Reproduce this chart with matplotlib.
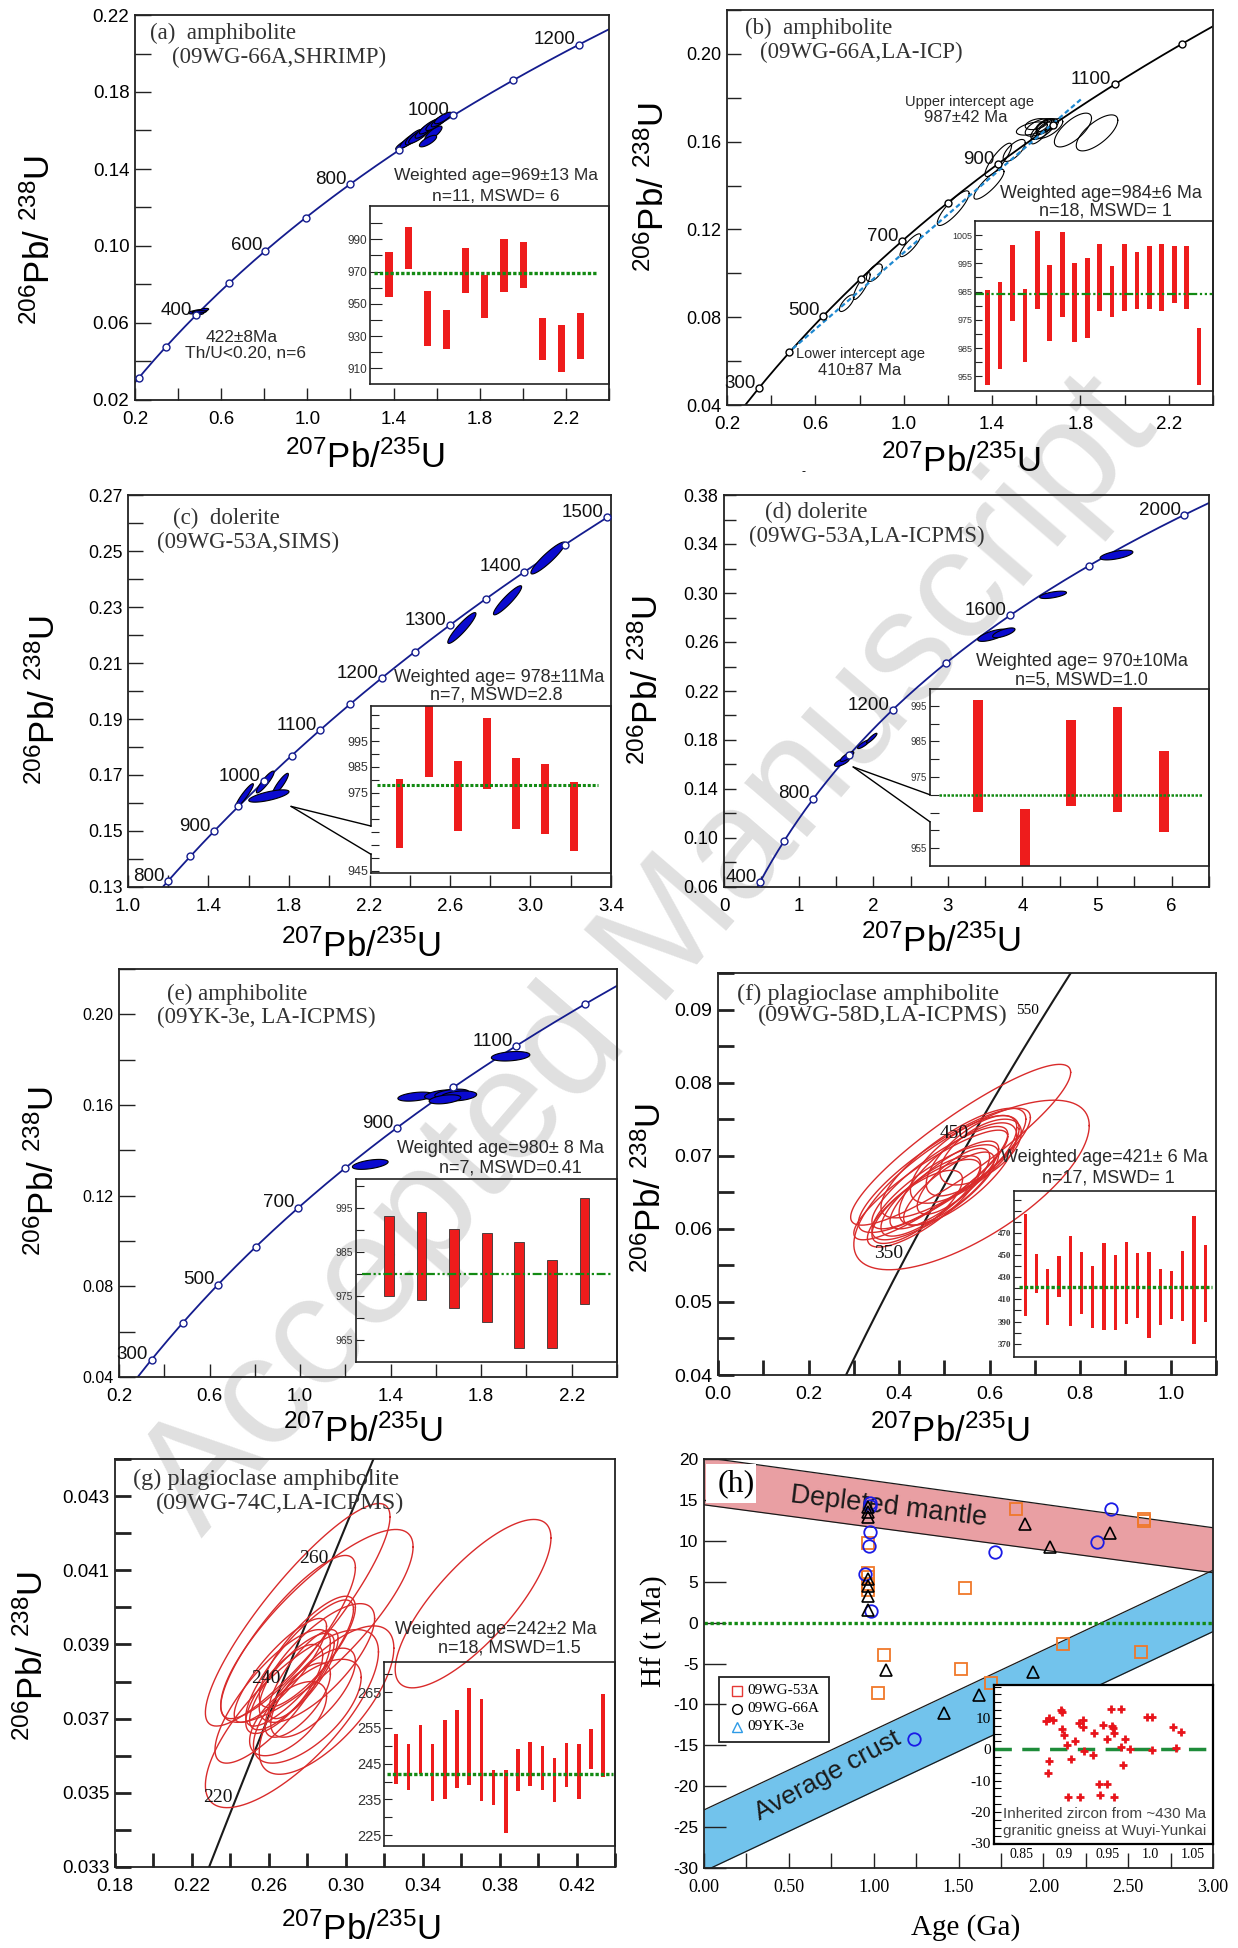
import numpy as np
import matplotlib
matplotlib.use("Agg")
import matplotlib.pyplot as plt
from matplotlib.patches import ConnectionPatch, Rectangle

plt.rcParams['font.family'] = ['Liberation Sans', 'DejaVu Sans']
plt.rcParams['mathtext.fontset'] = 'custom'
plt.rcParams['mathtext.rm'] = 'Liberation Sans'
plt.rcParams['mathtext.it'] = 'Liberation Sans:italic'
plt.rcParams['mathtext.bf'] = 'Liberation Sans:bold'
SERIF = ['Liberation Serif', 'DejaVu Serif']

# decay constants (1/Ma)
L238 = 1.55125e-4
L235 = 9.8485e-4

# ---------------- (a) 09WG-66A, SHRIMP
a_marks = [200, 300, 400, 500, 600, 700, 800, 900, 1000, 1100, 1200]
a_named = [400, 600, 800, 1000, 1200]
# x, sx, y, sy, rho
a_ell = [(1.450, 0.040, 0.1530, 0.0030, 0.85), (1.475, 0.045, 0.1550, 0.0040, 0.85),
         (1.495, 0.040, 0.1565, 0.0040, 0.80), (1.520, 0.050, 0.1575, 0.0042, 0.85),
         (1.545, 0.045, 0.1600, 0.0040, 0.85), (1.565, 0.045, 0.1620, 0.0038, 0.85),
         (1.585, 0.040, 0.1585, 0.0038, 0.80), (1.600, 0.050, 0.1640, 0.0040, 0.85),
         (1.620, 0.045, 0.1655, 0.0036, 0.85), (1.630, 0.040, 0.1665, 0.0030, 0.80),
         (1.560, 0.040, 0.1545, 0.0030, 0.75),
         (0.470, 0.022, 0.0655, 0.0008, 0.3), (0.490, 0.025, 0.0660, 0.0009, 0.4),
         (0.500, 0.020, 0.0650, 0.0007, 0.3), (0.510, 0.025, 0.0662, 0.0008, 0.4),
         (0.520, 0.022, 0.0668, 0.0008, 0.5), (0.500, 0.030, 0.0658, 0.0006, 0.2)]
a_hi = [982, 997.8, 958, 946.3, 984.6, 968, 990.2, 988.4, 941.1, 936.6, 944.6]
a_lo = [954, 971.6, 923.6, 922.2, 956.4, 941.5, 957.4, 959.7, 915, 907.7, 915.8]
a_age = 969

# ---------------- (b) 09WG-66A, LA-ICP
b_marks = [300, 400, 500, 600, 700, 800, 900, 1000, 1100, 1200]
b_named = [300, 500, 700, 900, 1100]
b_ell = [(0.742, 0.033, 0.0864, 0.0038, 0.75), (0.810, 0.038, 0.0942, 0.0061, 0.85),
         (0.867, 0.036, 0.1003, 0.0040, 0.60), (1.030, 0.047, 0.1128, 0.0052, 0.85),
         (1.224, 0.072, 0.1297, 0.0079, 0.85), (1.386, 0.068, 0.1406, 0.0068, 0.85),
         (1.428, 0.060, 0.1517, 0.0076, 0.85), (1.500, 0.050, 0.1560, 0.0050, 0.70),
         (1.580, 0.070, 0.1660, 0.0030, 0.50), (1.610, 0.060, 0.1665, 0.0040, 0.60),
         (1.630, 0.055, 0.1655, 0.0045, 0.70), (1.650, 0.050, 0.1675, 0.0030, 0.50),
         (1.620, 0.045, 0.1640, 0.0050, 0.80), (1.660, 0.060, 0.1660, 0.0045, 0.70),
         (1.600, 0.050, 0.1680, 0.0025, 0.40), (1.640, 0.040, 0.1670, 0.0035, 0.60),
         (1.766, 0.084, 0.1653, 0.0077, 0.70), (1.875, 0.094, 0.1640, 0.0082, 0.70)]
b_lower, b_upper, b_line_end = 410, 987, 1.81
b_hi = [985.5, 988.5, 1001.5, 986, 1006.5, 994.5, 1006, 995, 997, 1002, 994, 1002, 999, 1001, 1002, 1001, 1001, 972]
b_lo = [952, 957.5, 974.5, 960, 979, 967.5, 976, 967, 968.5, 978, 976, 978, 979, 979, 978, 981, 979, 952]
b_age = 984

# ---------------- (c) 09WG-53A, SIMS
c_marks = list(range(800, 1501, 50))
c_named = [800, 900, 1000, 1100, 1200, 1300, 1400, 1500]
c_ell = [(1.579, 0.044, 0.1627, 0.0042, 0.93), (1.682, 0.044, 0.1675, 0.0039, 0.90),
         (1.757, 0.040, 0.1667, 0.0039, 0.90), (1.700, 0.100, 0.1625, 0.0022, 0.70),
         (2.659, 0.070, 0.2225, 0.0055, 0.92), (2.886, 0.070, 0.2324, 0.0052, 0.92),
         (3.087, 0.085, 0.2475, 0.0057, 0.92)]
c_hi = [980.4, 1012, 987.1, 1003.8, 988.6, 986.2, 979.3]
c_lo = [953.9, 981, 960.3, 976.6, 961.2, 959.2, 952.6]
c_age = 978

# ---------------- (d) 09WG-53A, LA-ICPMS
d_marks = list(range(400, 2001, 200))
d_named = [400, 800, 1200, 1600, 2000]
d_ell = [(1.58, 0.10, 0.1620, 0.0035, 0.70), (1.65, 0.09, 0.1665, 0.0040, 0.80),
         (1.87, 0.08, 0.1765, 0.0035, 0.85), (1.98, 0.07, 0.1815, 0.0040, 0.90),
         (3.60, 0.20, 0.2655, 0.0050, 0.70), (3.75, 0.15, 0.2675, 0.0040, 0.70),
         (4.41, 0.18, 0.2985, 0.0030, 0.60), (5.26, 0.22, 0.3310, 0.0040, 0.60)]
d_hi = [996.7, 965.9, 991.1, 994.7, 982.2]
d_lo = [965.2, 948, 966.8, 965.2, 959.6]
d_age = 970

# ---------------- (e) 09YK-3e, LA-ICPMS
e_marks = [300, 400, 500, 600, 700, 800, 900, 1000, 1100, 1200]
e_named = [300, 500, 700, 900, 1100]
e_ell = [(1.310, 0.079, 0.1338, 0.0022, 0.5), (1.510, 0.078, 0.1637, 0.0020, 0.4),
         (1.630, 0.080, 0.1645, 0.0022, 0.4), (1.670, 0.075, 0.1650, 0.0020, 0.4),
         (1.700, 0.080, 0.1640, 0.0022, 0.3), (1.640, 0.070, 0.1625, 0.0020, 0.4),
         (1.930, 0.085, 0.1815, 0.0021, 0.3)]
e_hi = [993.1, 994, 990.2, 989.2, 987.1, 983.1, 997.1]
e_lo = [975, 973.9, 972.1, 969, 963.1, 963.1, 973.1]
e_age = 980

# ---------------- (f) 09WG-58D, LA-ICPMS
f_named = [350, 450, 550]
f_ell = [(0.536, 0.243, 0.0715, 0.0110, 0.90), (0.560, 0.260, 0.0660, 0.0116, 0.70),
         (0.500, 0.190, 0.0680, 0.0085, 0.85), (0.520, 0.160, 0.0690, 0.0075, 0.80),
         (0.480, 0.140, 0.0650, 0.0065, 0.80), (0.500, 0.120, 0.0660, 0.0060, 0.82),
         (0.470, 0.110, 0.0645, 0.0055, 0.78), (0.530, 0.130, 0.0675, 0.0070, 0.75),
         (0.545, 0.120, 0.0695, 0.0060, 0.70), (0.490, 0.150, 0.0670, 0.0070, 0.85),
         (0.455, 0.125, 0.0635, 0.0060, 0.80), (0.510, 0.100, 0.0655, 0.0050, 0.80),
         (0.560, 0.100, 0.0700, 0.0055, 0.70), (0.440, 0.100, 0.0630, 0.0050, 0.75),
         (0.580, 0.090, 0.0705, 0.0045, 0.60), (0.470, 0.170, 0.0660, 0.0075, 0.88),
         (0.520, 0.080, 0.0665, 0.0045, 0.75)]
f_hi = [487.4, 450.5, 437.1, 449, 467, 452.9, 440, 460.4, 450, 461.9, 451.4, 452.3, 437.1, 435.6, 453.5, 485, 458.9]
f_lo = [394.6, 415.5, 387.1, 411.9, 385.6, 397, 384.1, 382, 382, 387.7, 393, 375.1, 386.5, 392.5, 390.7, 370, 389.5]
f_age = 421

# ---------------- (g) 09WG-74C, LA-ICPMS
g_named = [220, 240, 260]
g_ell = [(0.3662, 0.0405, 0.0401, 0.00227, 0.78), (0.275, 0.048, 0.0398, 0.0030, 0.88),
         (0.285, 0.050, 0.0395, 0.0026, 0.82), (0.272, 0.045, 0.0370, 0.0024, 0.75),
         (0.270, 0.035, 0.0392, 0.0022, 0.85), (0.276, 0.028, 0.0385, 0.0017, 0.85),
         (0.280, 0.025, 0.0388, 0.0015, 0.80), (0.272, 0.022, 0.0380, 0.0013, 0.80),
         (0.268, 0.020, 0.0378, 0.0012, 0.75), (0.278, 0.018, 0.0382, 0.0012, 0.80),
         (0.283, 0.022, 0.0377, 0.0012, 0.70), (0.275, 0.017, 0.0375, 0.0010, 0.70),
         (0.266, 0.024, 0.0383, 0.0014, 0.85), (0.285, 0.030, 0.0385, 0.0016, 0.75),
         (0.290, 0.035, 0.0375, 0.0020, 0.70), (0.270, 0.020, 0.0370, 0.0010, 0.60),
         (0.280, 0.028, 0.0372, 0.0014, 0.65), (0.262, 0.030, 0.0376, 0.0018, 0.80)]
g_hi = [253.4, 250.4, 255.7, 250.4, 257.3, 259.9, 266.2, 263.1, 243.3, 243.3, 249.2, 251, 249.8, 246.7, 250.7, 250.4, 254.8, 264.5]
g_lo = [239.2, 237.7, 242.2, 234.6, 235.2, 238.3, 239.1, 234.6, 233.4, 225.5, 237.4, 238.8, 237.6, 234.3, 238.5, 235.2, 243.6, 241.3]
g_age = 242

# ---------------- (h) Hf isotopes
dm_x = [0, 3]
dm_upper = [20.2, 11.6]
dm_lower = [14.4, 6.1]
ac_upper = [-22.9, 6.4]
ac_lower = [-30.4, -1.1]
sq_x = [0.968, 0.968, 0.968, 0.968, 0.968, 1.536, 1.838, 2.591, 2.591, 1.061, 1.026, 1.515, 1.689, 2.114, 2.575]
sq_y = [9.77, 6.03, 5.54, 4.68, 3.99, 4.19, 13.85, 12.67, 12.46, -3.96, -8.65, -5.63, -7.34, -2.62, -3.6]
ci_x = [0.978, 0.978, 0.978, 0.974, 0.949, 0.982, 1.713, 2.319, 2.40, 1.236]
ci_y = [14.58, 14.2, 11.1, 9.36, 5.9, 1.37, 8.67, 9.89, 13.89, -14.2]
tr_x = [0.968, 0.968, 0.968, 0.968, 0.968, 0.968, 0.968, 1.892, 2.037, 2.393, 1.07, 1.939, 1.62, 1.415]
tr_y = [14.17, 13.56, 12.87, 5.33, 4.43, 3.29, 1.58, 12.0, 9.28, 10.9, -5.8, -6.08, -8.85, -11.1]
inh_x = [0.879, 0.8826, 0.8868, 0.8965, 0.898, 0.898, 0.900, 0.9038, 0.9128, 0.9178, 0.9217, 0.9217,
         0.9229, 0.9078, 0.8822, 0.881, 0.9043, 0.9186, 0.9334, 0.9349, 0.9411, 0.9496, 0.9419, 0.945,
         0.95, 0.9555, 0.9566, 0.9581, 0.9547, 0.9578, 0.9663, 0.9663, 0.969, 0.971, 0.9766, 0.996,
         1.0019, 1.0019, 1.0263, 1.0303, 1.0355]
inh_y = [9.0, 9.84, 9.2, 12.5, 11.96, 6.35, 4.44, 1.27, 2.65, 8.25, 9.2, 7.09, -0.53, -3.17, -3.7,
         -7.6, -15.1, -15.1, -1.9, 5.29, -11.1, -11.1, -14.6, 7.72, 3.39, 7.4, 6.67, 5.29, 12.7,
         -15.1, 12.7, 0.74, -5.08, 3.39, 0.1, 10.2, 10.3, -0.2, 7.2, 0.3, 5.6]

W, H = 1238, 1948
fig = plt.figure(figsize=(W / 100, H / 100), dpi=100)
fig.patch.set_facecolor('white')

NAVY = '#141C8E'
BLUE = '#0A0ACF'
RED = '#EE1C1C'
GREEN = '#138A13'
DARK = '#222222'


def box(l, t, r, b):
    return fig.add_axes([l / W, 1 - b / H, (r - l) / W, (b - t) / H])


def concordia(t):
    t = np.asarray(t, float)
    return np.exp(L235 * t) - 1, np.exp(L238 * t) - 1


def ell(x, sx, y, sy, rho, n=120):
    th = np.linspace(0, 2 * np.pi, n)
    return x + sx * np.cos(th), y + sy * (rho * np.cos(th) + np.sqrt(1 - rho ** 2) * np.sin(th))


def tickset(lo, hi, step, every, fmt):
    n = int(round((hi - lo) / step)) + 1
    vals = [lo + i * step for i in range(n)]
    return vals, [fmt.format(v) if i % every == 0 else '' for i, v in enumerate(vals)]


def frame(ax, xlim, ylim, xt, yt, xlen, ylen, xfs=13.5, yfs=13, tw=1.0, xfam=None):
    ax.set_xlim(*xlim)
    ax.set_ylim(*ylim)
    ax.set_xticks(xt[0])
    ax.set_xticklabels(xt[1], fontsize=xfs, fontfamily=xfam)
    ax.set_yticks(yt[0])
    ax.set_yticklabels(yt[1], fontsize=yfs)
    ax.tick_params(axis='x', direction='in', length=xlen * 0.72, width=tw, pad=8, color=DARK)
    ax.tick_params(axis='y', direction='in', length=ylen * 0.72, width=tw, pad=4, color=DARK)
    for s in ax.spines.values():
        s.set_linewidth(1.3)
        s.set_color(DARK)
    ax.patch.set_visible(False)


def make_inset(pos, xlim, ylim, yt, tl, fs, fam=None, weight='normal'):
    ins = box(*pos)
    ins.set_xlim(*xlim)
    ins.set_ylim(*ylim)
    ins.set_xticks([])
    ins.set_yticks(yt[0])
    ins.set_yticklabels(yt[1], fontsize=fs, fontfamily=fam, fontweight=weight, color='#333333')
    ins.tick_params(axis='y', direction='in', length=tl * 0.72, width=0.8, pad=2, color=DARK)
    for s in ins.spines.values():
        s.set_linewidth(1.2)
        s.set_color(DARK)
    ins.patch.set_visible(False)
    return ins


def bars(ins, lo, hi, width, mean, ls, lw, xr, ec='none'):
    idx = np.arange(len(lo))
    ins.bar(idx, np.array(hi) - np.array(lo), bottom=lo, width=width, color=RED,
            edgecolor=ec, linewidth=0.6)
    ins.axhline(mean, xmin=xr[0], xmax=xr[1], color=GREEN, ls=ls, lw=lw)


def curve(ax, color, marks=None, named=(), fs=13.5, fam=None, off=(-2.5, 3.5), lw=1.3):
    cx, cy = concordia(np.linspace(0, 4600, 4000))
    ax.plot(cx, cy, color=color, lw=lw, zorder=2)
    if marks is not None:
        mx, my = concordia(marks)
        ax.plot(mx, my, 'o', ms=5, mfc='white', mec=color, mew=1.0, zorder=4)
    for t in named:
        ax.annotate(str(t), concordia(t), xytext=off, textcoords='offset points',
                    ha='right', va='center', fontsize=fs, fontfamily=fam, color='#111111', zorder=5)


def ellipses(ax, rows, filled=True, color=BLUE, ec='black', lw=0.8):
    for x, sx, y, sy, rho in rows:
        ex, ey = ell(x, sx, y, sy, rho)
        if filled:
            ax.fill(ex, ey, fc=color, ec=ec, lw=lw, zorder=3)
        else:
            ax.plot(ex, ey, color=color, lw=lw, zorder=3)


def title(ax, x, y1, y2, t1, t2, x2=None, fs=16.5):
    ax.text(x, y1, t1, fontsize=fs, fontfamily=SERIF, color='#333333', ha='left', va='center')
    ax.text(x if x2 is None else x2, y2, t2, fontsize=fs, fontfamily=SERIF, color='#333333',
            ha='left', va='center')


def note(ax, x, y, s, fs=12.5):
    ax.text(x, y, s, fontsize=fs, ha='center', va='center', color='#2a2a2a', zorder=6)


YLAB = r'$^{206}$Pb/ $^{238}$U'
XLAB = r'$^{207}$Pb/$^{235}$U'


def axis_labels(xpos, ypos, xl=XLAB, yl=YLAB, fs=25, fam=None):
    fig.text(ypos[0] / W, 1 - ypos[1] / H, yl, rotation=90, ha='center', va='center',
             fontsize=fs, fontfamily=fam)
    fig.text(xpos[0] / W, 1 - xpos[1] / H, xl, ha='center', va='center', fontsize=fs, fontfamily=fam)


# watermark behind everything
fig.text(650 / W, 1 - 957 / H, 'Accepted Manuscript', rotation=49.2, rotation_mode='anchor',
         ha='center', va='center', fontsize=113, color='#E0E0E0', zorder=-10)

# ================= (a)
ax = box(135, 15, 609, 400)
frame(ax, (0.2, 2.4), (0.02, 0.22), tickset(0.2, 2.4, 0.2, 2, '{:.1f}'),
      tickset(0.02, 0.22, 0.02, 2, '{:.2f}'), 12, 16, yfs=13.5)
curve(ax, NAVY, a_marks, a_named)
ellipses(ax, a_ell)
title(ax, 0.27, 0.2105, 0.198, '(a)  amphibolite', '(09WG-66A,SHRIMP)', x2=0.371)
note(ax, 1.875, 0.1364, 'Weighted age=969\u00b113 Ma')
note(ax, 1.875, 0.1256, 'n=11, MSWD= 6')
note(ax, 0.695, 0.0526, '422\u00b18Ma')
note(ax, 0.714, 0.0439, 'Th/U<0.20, n=6')
ins = make_inset((370, 206, 609, 384), (-0.99, 11.48), (900.3, 1010.6),
                 tickset(910, 1000, 10, 2, '{:.0f}'), 12, 8.5)
bars(ins, a_lo, a_hi, 0.37, a_age, (0, (1, 0.6)), 2.4, (0.017, 0.95))
axis_labels((365, 458), (40, 240))

# ================= (b)
ax = box(727, 10, 1213, 405)
frame(ax, (0.2, 2.4), (0.04, 0.22), tickset(0.2, 2.4, 0.2, 2, '{:.1f}'),
      tickset(0.04, 0.22, 0.02, 2, '{:.2f}'), 10, 14)
curve(ax, 'black', b_marks, b_named)
ellipses(ax, b_ell, filled=False, color='black', lw=0.8)
lx, ly = concordia(b_lower)
ux, uy = concordia(b_upper)
slope = (uy - ly) / (ux - lx)
ax.plot([lx, b_line_end], [ly, ly + slope * (b_line_end - lx)], color='#1E88D0', lw=1.6,
        ls=(0, (2.2, 1.4)), zorder=3)
title(ax, 0.281, 0.2114, 0.2007, '(b)  amphibolite', '(09WG-66A,LA-ICP)', x2=0.3475)
note(ax, 1.297, 0.178, 'Upper intercept age', fs=10.5)
note(ax, 1.279, 0.1709, '987\u00b142 Ma', fs=12)
note(ax, 0.8025, 0.0632, 'Lower intercept age', fs=10.5)
note(ax, 0.8025, 0.0556, '410\u00b187 Ma', fs=12)
note(ax, 1.894, 0.1363, 'Weighted age=984\u00b16 Ma', fs=13)
note(ax, 1.912, 0.1283, 'n=18, MSWD= 1', fs=13)
b_ticks = tickset(955, 1005, 5, 2, '{:.0f}')
b_ticks[1][2] = '985'
ins = make_inset((975, 221, 1213, 391), (-1.02, 18.12), (949.8, 1010), b_ticks, 7, 6.5)
bars(ins, b_lo, b_hi, 0.38, b_age, (0, (4, 1.2, 1, 1.2, 1, 1.2)), 1.6, (0.0, 1.0))
axis_labels((961, 462), (654, 187))
fig.text(804 / W, 1 - 472 / H, '-', ha='center', va='center', fontsize=9)

# ================= (c)
ax = box(128, 495, 611, 887)
frame(ax, (1.0, 3.4), (0.13, 0.27), tickset(1.0, 3.4, 0.2, 2, '{:.1f}'),
      tickset(0.13, 0.27, 0.01, 2, '{:.2f}'), 12, 15, yfs=12.7)
curve(ax, NAVY, c_marks, c_named)
ellipses(ax, c_ell)
title(ax, 1.225, 0.2616, 0.2532, '(c)  dolerite', '(09WG-53A,SIMS)', x2=1.146)
note(ax, 2.844, 0.205, 'Weighted age= 978\u00b111Ma', fs=13)
note(ax, 2.83, 0.1987, 'n=7, MSWD=2.8', fs=13)
c_vals = list(range(945, 1006, 5))
c_labs = [str(v) if v in (945, 975, 985, 995) else '' for v in c_vals]
ins = make_inset((371, 706, 611, 873), (-0.98, 7.26), (944.1, 1008.5), (c_vals, c_labs), 8, 9)
bars(ins, c_lo, c_hi, 0.27, c_age, (0, (1, 0.6)), 2.2, (0.023, 0.946))
ins.spines['left'].set_visible(False)
for seg in [(944.1, 951.3), (962.2, 1008.5)]:
    ins.plot([0, 0], seg, transform=ins.get_yaxis_transform(), color=DARK, lw=1.2, clip_on=False)
for yv in (962.2, 951.3):
    fig.add_artist(ConnectionPatch(xyA=(1.81, 0.1588), coordsA=ax.transData, xyB=(0, yv),
                                   coordsB=ins.get_yaxis_transform(), color='black', lw=1.0))
axis_labels((361, 947), (45, 700))

# ================= (d)
ax = box(724, 495, 1209, 887)
frame(ax, (0, 6.5), (0.06, 0.38), tickset(0, 6.5, 0.5, 2, '{:.0f}'),
      tickset(0.06, 0.38, 0.02, 2, '{:.2f}'), 11, 12, yfs=12.9)
curve(ax, NAVY, d_marks, d_named)
ellipses(ax, d_ell)
title(ax, 0.544, 0.366, 0.3463, '(d) dolerite', '(09WG-53A,LA-ICPMS)', x2=0.332)
note(ax, 4.80, 0.2437, 'Weighted age= 970\u00b110Ma', fs=13)
note(ax, 4.79, 0.2293, 'n=5, MSWD=1.0', fs=13)
d_vals = list(range(955, 1000, 5))
d_labs = [str(v) if v in (955, 975, 985, 995) else '' for v in d_vals]
ins = make_inset((930, 689, 1209, 866), (-1.04, 4.97), (950, 999.7), (d_vals, d_labs), 9, 7)
bars(ins, d_lo, d_hi, 0.21, d_age, (0, (1, 0.6)), 1.8, (0.033, 0.98))
ins.spines['left'].set_visible(False)
for seg in [(950, 962.4), (970.0, 999.7)]:
    ins.plot([0, 0], seg, transform=ins.get_yaxis_transform(), color=DARK, lw=1.2, clip_on=False)
for yv in (970.0, 962.4):
    fig.add_artist(ConnectionPatch(xyA=(1.731, 0.158), coordsA=ax.transData, xyB=(0, yv),
                                   coordsB=ins.get_yaxis_transform(), color='black', lw=1.0))
axis_labels((941, 942), (648, 680))

# ================= (e)
ax = box(119, 969, 617, 1377)
frame(ax, (0.2, 2.4), (0.04, 0.22), tickset(0.2, 2.4, 0.2, 2, '{:.1f}'),
      tickset(0.04, 0.22, 0.02, 2, '{:.2f}'), 13, 16, yfs=11.5)
curve(ax, NAVY, e_marks, e_named)
ellipses(ax, e_ell)
title(ax, 0.41, 0.2087, 0.1988, '(e) amphibolite', '(09YK-3e, LA-ICPMS)', x2=0.37)
note(ax, 1.887, 0.1407, 'Weighted age=980\u00b1 8 Ma', fs=13)
note(ax, 1.931, 0.1324, 'n=7, MSWD=0.41', fs=13)
ins = make_inset((356, 1179, 617, 1362), (-1.01, 7.0), (959.9, 1001.5),
                 tickset(965, 1000, 5, 2, '{:.0f}'), 8, 7.5)
bars(ins, e_lo, e_hi, 0.30, e_age, (0, (4, 1.2, 1, 1.2, 1, 1.2)), 1.6, (0.023, 0.98), ec='#333333')
axis_labels((363, 1432), (44, 1171))

# ================= (f)
ax = box(718, 973, 1216, 1375)
frame(ax, (0, 1.1), (0.04, 0.095), tickset(0, 1.1, 0.1, 2, '{:.1f}'),
      tickset(0.04, 0.095, 0.005, 2, '{:.2f}'), 15, 16, xfs=14, yfs=14, tw=2.0)
curve(ax, '#1a1a1a', None, [350, 450], fs=14, fam=SERIF, off=(-1, 4), lw=1.5)
ax.annotate('550', concordia(550), xytext=(-3, 4), textcoords='offset points', ha='right',
            va='center', fontsize=11, fontfamily=SERIF)
ellipses(ax, f_ell, filled=False, color='#D92B2B', lw=1.0)
title(ax, 0.041, 0.0921, 0.0892, '(f) plagioclase amphibolite', '(09WG-58D,LA-ICPMS)', x2=0.089, fs=17.5)
note(ax, 0.853, 0.0697, 'Weighted age=421\u00b1 6 Ma', fs=13)
note(ax, 0.862, 0.0670, 'n=17, MSWD= 1', fs=13)
f_vals = list(range(370, 501, 10))
f_labs = [str(v) if v <= 470 and (v - 370) % 20 == 0 else '' for v in f_vals]
ins = make_inset((1014, 1191, 1216, 1357), (-0.99, 16.95), (358, 507.7), (f_vals, f_labs), 7, 6.5,
                 fam=SERIF, weight='bold')
bars(ins, f_lo, f_hi, 0.28, f_age, (0, (1, 0.6)), 2.4, (0.026, 0.98))
axis_labels((950, 1432), (651, 1188))

# ================= (g)
ax = box(115, 1459, 615, 1867)
frame(ax, (0.18, 0.44), (0.033, 0.044), tickset(0.18, 0.44, 0.02, 2, '{:.2f}'),
      tickset(0.033, 0.044, 0.001, 2, '{:.3f}'), 14, 16, xfs=13.7, yfs=13.6, tw=2.0)
curve(ax, '#1a1a1a', None, g_named, fs=14, fam=SERIF, off=(-1, 4), lw=1.5)
ellipses(ax, g_ell, filled=False, color='#D92B2B', lw=1.0)
title(ax, 0.1896, 0.04345, 0.0428, '(g) plagioclase amphibolite', '(09WG-74C,LA-ICPMS)', x2=0.2011, fs=17.5)
note(ax, 0.378, 0.0394, 'Weighted age=242\u00b12 Ma', fs=13)
note(ax, 0.385, 0.0389, 'n=18, MSWD=1.5', fs=13)
ins = make_inset((384, 1662, 615, 1846), (-1.0, 17.97), (222, 273.4),
                 tickset(225, 270, 5, 2, '{:.0f}'), 8, 10.5)
bars(ins, g_lo, g_hi, 0.29, g_age, (0, (1, 0.6)), 2.4, (0.014, 0.99))
axis_labels((361, 1930), (33, 1656))

# ================= (h)
ax = box(704, 1459, 1213, 1868)
frame(ax, (0, 3), (-30, 20), tickset(0, 3, 0.25, 2, '{:.2f}'),
      tickset(-30, 20, 5, 1, '{:.0f}'), 15, 22, xfs=13, yfs=12.5, xfam=SERIF)
ax.fill_between(dm_x, dm_lower, dm_upper, color='#E99FA3', lw=0, zorder=1)
ax.fill_between(dm_x, ac_lower, ac_upper, color='#72C3EC', lw=0, zorder=1)
for yy in (dm_upper, dm_lower, ac_upper, ac_lower):
    ax.plot(dm_x, yy, color='#1a1a1a', lw=0.9, zorder=2)
ax.axhline(0, color=GREEN, ls=(0, (1, 0.8)), lw=2.4, zorder=2)
ax.add_patch(Rectangle((0.012, 14.6), 0.296, 4.8, fc='white', ec='none', zorder=3))
ax.text(0.191, 17.0, '(h)', fontsize=23, fontfamily=SERIF, ha='center', va='center', zorder=4)
ax.text(1.089, 14.16, 'Depleted mantle', fontsize=19.5, rotation=-6.8, ha='center', va='center',
        color='#1a1a1a', zorder=3)
ax.text(0.727, -18.7, 'Average crust', fontsize=19, rotation=28.5, ha='center', va='center',
        color='#1a1a1a', zorder=3)
ax.plot(sq_x, sq_y, 's', ms=8, mfc='none', mec='#F0782A', mew=1.3, zorder=5)
ax.plot(ci_x, ci_y, 'o', ms=9, mfc='none', mec='#1A1AE6', mew=1.3, zorder=5)
ax.plot(tr_x, tr_y, '^', ms=9, mfc='none', mec='black', mew=1.2, zorder=5)
ax.add_patch(Rectangle((0.029, 0.308), 0.217, 0.159, transform=ax.transAxes, fill=False,
                       ec=DARK, lw=1.3, zorder=6))
for yy, mk, col, lab in [(0.433, 's', '#E53935', '09WG-53A'), (0.389, 'o', 'black', '09WG-66A'),
                         (0.345, '^', '#2E9BE6', '09YK-3e')]:
    ax.plot([0.065], [yy], mk, ms=7, mfc='none', mec=col, mew=1.0, transform=ax.transAxes, zorder=6)
    ax.text(0.086, yy, lab, transform=ax.transAxes, fontsize=11, fontfamily=SERIF, va='center', zorder=6)
h_ticks = tickset(-30, 20, 2.5, 4, '{:.0f}')
h_ticks[1][-1] = ''
ins = box(994, 1685, 1213, 1844)
ins.set_xlim(0.8186, 1.073)
ins.set_ylim(-30.2, 20.5)
ins.set_yticks(h_ticks[0])
ins.set_yticklabels(h_ticks[1], fontsize=11, fontfamily=SERIF)
ins.set_xticks([0.85, 0.9, 0.95, 1.0, 1.05])
ins.set_xticklabels(['0.85', '0.9', '0.95', '1.0', '1.05'], fontsize=10, fontfamily=SERIF)
ins.tick_params(axis='y', direction='in', length=5, width=0.8, pad=2)
ins.tick_params(axis='x', length=0, pad=3)
ins.set_facecolor('white')
for s in ins.spines.values():
    s.set_linewidth(1.6)
    s.set_color('black')
ins.axhline(0, color='#1E8C3A', ls=(0, (5, 3)), lw=2.5)
ins.plot(inh_x, inh_y, '+', ms=6, mew=2, color='#E8141B')
ins.text(0.507, 0.189, 'Inherited zircon from ~430 Ma', transform=ins.transAxes, fontsize=11,
         ha='center', va='center', color='#444444')
ins.text(0.507, 0.082, 'granitic gneiss at Wuyi-Yunkai', transform=ins.transAxes, fontsize=11,
         ha='center', va='center', color='#444444')
axis_labels((966, 1928), (654, 1631), xl='Age (Ga)', yl='Hf (t Ma)', fs=21, fam=SERIF)

fig.savefig('out.png', dpi=100)
